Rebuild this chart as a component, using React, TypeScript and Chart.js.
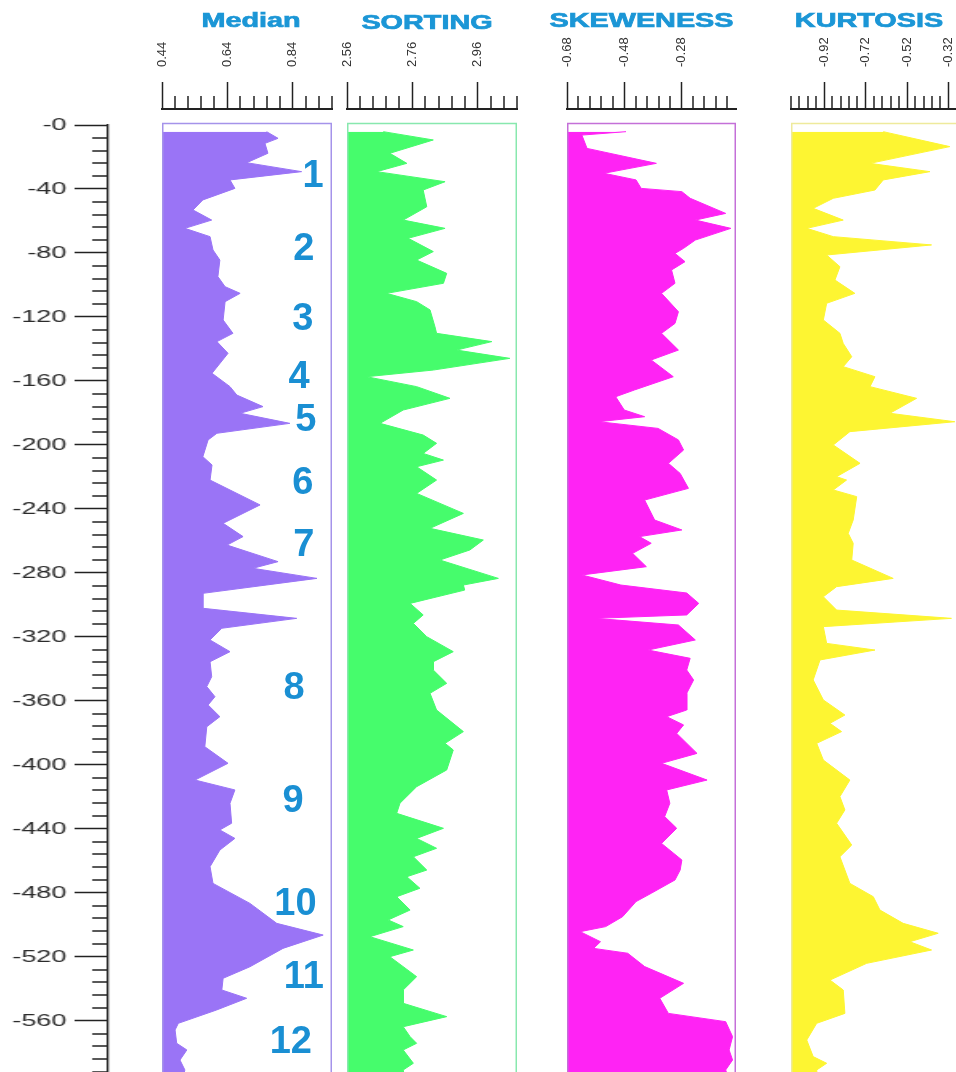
import React, { useEffect, useRef } from 'react';
import { Chart, registerables } from 'chart.js';

Chart.register(...registerables);
Chart.defaults.font.family = "'Liberation Sans', Arial, sans-serif";

// ---------------- data ----------------
const DEPTH_LABELS = [0, -40, -80, -120, -160, -200, -240, -280, -320, -360, -400, -440, -480, -520, -560, -600];
const DEPTH_MIN = -600;
const DEPTH_STEP = 8;

const MEDIAN_TICKS = [0.44, 0.64, 0.84];
const SORTING_TICKS = [2.56, 2.76, 2.96];
const SKEW_TICKS = [-0.68, -0.48, -0.28];
const KURT_TICKS = [-0.92, -0.72, -0.52, -0.32];

const MEDIAN_DEPTH = [-4.1, -8.2, -11.3, -17.4, -23.2, -28.7, -33.8, -39, -46.1, -52.3, -58.5, -63.6, -68.7, -76.9, -83.1, -93.3, -99.5, -103.6, -108.7, -120, -128.2, -133.3, -140.5, -152.8, -161, -166.2, -173.3, -177.4, -183.6, -189.7, -193.8, -204.1, -209.2, -218.5, -233.8, -245.1, -253.3, -258.5, -268.7, -272.8, -279, -288.2, -297.4, -303.6, -309.7, -316.9, -324.1, -330.3, -339.5, -345.6, -351.8, -356.9, -364.1, -370.3, -382.6, -392.8, -403.1, -409.2, -417.4, -429.7, -433.8, -439, -446.2, -456.4, -466.7, -479, -491.3, -498.5, -506.7, -518, -525.1, -532.3, -537.4, -544.6, -552.8, -556.9, -565.1, -569.2, -575.4, -581.5, -590];
const MEDIAN_VALUE = [0.760, 0.795, 0.755, 0.764, 0.699, 0.867, 0.648, 0.663, 0.565, 0.535, 0.592, 0.510, 0.587, 0.596, 0.617, 0.611, 0.633, 0.679, 0.633, 0.627, 0.657, 0.608, 0.642, 0.593, 0.648, 0.669, 0.749, 0.679, 0.831, 0.608, 0.581, 0.565, 0.593, 0.587, 0.740, 0.627, 0.688, 0.639, 0.795, 0.718, 0.914, 0.565, 0.565, 0.852, 0.623, 0.587, 0.648, 0.587, 0.592, 0.577, 0.602, 0.581, 0.617, 0.577, 0.571, 0.642, 0.541, 0.663, 0.648, 0.653, 0.617, 0.663, 0.617, 0.587, 0.596, 0.709, 0.791, 0.933, 0.810, 0.709, 0.627, 0.623, 0.699, 0.607, 0.490, 0.480, 0.485, 0.516, 0.495, 0.510, 0.500];

const SORTING_DEPTH = [-4.1, -9.2, -17.4, -23.6, -28.7, -34.9, -40, -50.3, -58.5, -63.6, -69.7, -77.9, -83.1, -91.3, -97.4, -103.6, -108.7, -113.8, -124.1, -128.2, -133.3, -138.5, -143.6, -150.8, -154.9, -161, -168.2, -175.4, -183.6, -190.8, -195.9, -202.1, -206.2, -210.3, -218.5, -226.7, -239, -248.2, -255.4, -261.5, -267.7, -279, -283.1, -286.2, -294.4, -301.5, -306.7, -314.9, -324.1, -330.3, -335.4, -343.6, -349.7, -360, -373.3, -380.5, -384.6, -396.9, -407.2, -417.4, -423.6, -432.8, -439, -445.1, -450.3, -458.5, -462.6, -469.7, -474.9, -483.1, -489.2, -493.3, -499.5, -507.7, -511.8, -524.1, -532.3, -540.5, -548.7, -554.9, -561, -565.1, -569.2, -577.4, -581.5, -590];
const SORTING_VALUE = [2.671, 2.824, 2.691, 2.743, 2.651, 2.860, 2.793, 2.804, 2.732, 2.860, 2.747, 2.824, 2.773, 2.865, 2.855, 2.681, 2.773, 2.814, 2.829, 2.834, 3.003, 2.895, 3.058, 2.824, 2.620, 2.773, 2.875, 2.732, 2.661, 2.793, 2.834, 2.793, 2.855, 2.773, 2.834, 2.773, 2.916, 2.814, 2.977, 2.936, 2.844, 3.023, 2.916, 2.920, 2.753, 2.793, 2.763, 2.804, 2.885, 2.824, 2.824, 2.865, 2.814, 2.834, 2.916, 2.860, 2.885, 2.865, 2.773, 2.722, 2.712, 2.855, 2.773, 2.834, 2.763, 2.804, 2.743, 2.783, 2.712, 2.753, 2.686, 2.732, 2.630, 2.763, 2.691, 2.773, 2.732, 2.732, 2.865, 2.732, 2.753, 2.773, 2.732, 2.763, 2.732, 2.740];

const SKEW_DEPTH = [-4.1, -6.2, -14.4, -23.6, -29.7, -33.8, -39, -41, -45.1, -54.4, -58.5, -63.6, -70.8, -75.9, -79, -84.1, -89.2, -97.4, -103.6, -114.9, -122.1, -128.2, -138.5, -144.6, -154.9, -163.1, -167.2, -175.4, -179.5, -182.6, -186.7, -193.8, -200, -208.2, -214.4, -223.6, -230.8, -243.1, -249.2, -253.3, -257.4, -263.6, -271.8, -276.9, -283.1, -288, -294.4, -301.5, -303.6, -307.7, -316.9, -323.1, -328.2, -335.4, -341.5, -349.7, -360, -364.1, -369.2, -374.4, -386.7, -392.8, -403.1, -409.2, -417.4, -425.6, -432.8, -442.1, -452.3, -458.5, -464.6, -472.8, -477.9, -487.2, -493.3, -496.4, -502.6, -506.7, -509.7, -517.9, -528.2, -537.4, -546.7, -551.8, -561, -569.2, -575.4, -581.5, -590];
const SKEW_VALUE = [-0.474, -0.628, -0.610, -0.368, -0.551, -0.439, -0.421, -0.279, -0.250, -0.126, -0.232, -0.108, -0.232, -0.273, -0.303, -0.268, -0.315, -0.303, -0.350, -0.291, -0.303, -0.350, -0.291, -0.386, -0.309, -0.445, -0.510, -0.480, -0.409, -0.569, -0.362, -0.291, -0.273, -0.326, -0.285, -0.256, -0.409, -0.374, -0.279, -0.427, -0.386, -0.451, -0.403, -0.628, -0.492, -0.262, -0.220, -0.262, -0.581, -0.291, -0.232, -0.397, -0.250, -0.262, -0.238, -0.262, -0.262, -0.332, -0.273, -0.297, -0.226, -0.350, -0.191, -0.332, -0.321, -0.339, -0.297, -0.350, -0.279, -0.285, -0.303, -0.386, -0.439, -0.486, -0.545, -0.634, -0.563, -0.587, -0.468, -0.409, -0.273, -0.356, -0.326, -0.126, -0.102, -0.114, -0.102, -0.126, -0.110];

const KURT_DEPTH = [-4.1, -13.3, -23.6, -28.7, -33.8, -40, -45.1, -51.3, -58.5, -63.6, -68.7, -73.8, -80, -87.2, -95.4, -103.6, -109.7, -120, -128.2, -134.4, -142.6, -148.7, -154.9, -161, -168.2, -177.4, -182.6, -188.7, -196.9, -208.2, -216.4, -218.5, -224.6, -228.7, -243.1, -251.3, -257.4, -267.7, -279, -284.1, -290.3, -298.5, -303.6, -308.7, -319, -323.1, -329.2, -341.5, -353.8, -363.1, -368.2, -373.3, -380.5, -390.8, -403.1, -413.3, -421.5, -429.7, -443.1, -450.3, -466.7, -474.9, -483.1, -491.3, -497.4, -502.6, -507.7, -515.9, -526.2, -532.3, -546.7, -552.8, -563.1, -573.3, -577.4, -581.5, -590];
const KURT_VALUE = [-0.635, -0.314, -0.699, -0.410, -0.635, -0.675, -0.876, -0.973, -0.828, -1.004, -0.876, -0.402, -0.908, -0.844, -0.868, -0.772, -0.908, -0.924, -0.844, -0.828, -0.787, -0.828, -0.675, -0.699, -0.474, -0.603, -0.290, -0.796, -0.876, -0.747, -0.860, -0.812, -0.876, -0.763, -0.780, -0.804, -0.780, -0.787, -0.587, -0.860, -0.924, -0.860, -0.306, -0.924, -0.908, -0.675, -0.940, -0.973, -0.924, -0.820, -0.892, -0.836, -0.956, -0.924, -0.796, -0.844, -0.820, -0.860, -0.787, -0.844, -0.796, -0.683, -0.651, -0.539, -0.370, -0.507, -0.402, -0.715, -0.892, -0.828, -0.820, -0.956, -1.004, -0.973, -0.908, -0.956, -0.950];

const ZONE_LABELS = ['1', '2', '3', '4', '5', '6', '7', '8', '9', '10', '11', '12'];
const ZONE_DEPTH = [-31, -76, -119, -155, -181, -220, -258, -346, -416, -479, -524, -564];
const ZONE_MEDIAN = [0.902, 0.874, 0.871, 0.859, 0.880, 0.871, 0.874, 0.844, 0.841, 0.848, 0.874, 0.834];

// ---------------- layout / style ----------------
const PAD = 32;
const CANVAS_H = 1100;
const AXIS_Y = 109; // pixel of the top axis line
const Y_MAX = 9.85; // so depth 0 lands at y=125
const TITLE_COLOR = '#1b96d6';
const TICK_COLOR = '#222';
const TICK_FONT = 13;

type Panel = {
  title: string; left: number; width: number; min: number; max: number;
  labels: number[]; depth: number[]; values: number[];
  fill: string; frame: string; titleDx: number; titleY: number; zones?: boolean;
};

const PANELS: Panel[] = [
  { title: 'Median', left: 162, width: 170, min: 0.44, max: 0.96, labels: MEDIAN_TICKS, depth: MEDIAN_DEPTH, values: MEDIAN_VALUE, fill: '#9a74f6', frame: '#a593ea', titleDx: 4, titleY: 21, zones: true },
  { title: 'SORTING', left: 347, width: 170, min: 2.56, max: 3.08, labels: SORTING_TICKS, depth: SORTING_DEPTH, values: SORTING_VALUE, fill: '#46fc6c', frame: '#88e8ae', titleDx: -5, titleY: 23 },
  { title: 'SKEWENESS', left: 567, width: 169, min: -0.68, max: -0.09, labels: SKEW_TICKS, depth: SKEW_DEPTH, values: SKEW_VALUE, fill: '#ff23f4', frame: '#c470d8', titleDx: -10, titleY: 21 },
  { title: 'KURTOSIS', left: 791, width: 170, min: -1.08, max: -0.26, labels: KURT_TICKS, depth: KURT_DEPTH, values: KURT_VALUE, fill: '#fdf532', frame: '#eeea9c', titleDx: -7, titleY: 21 },
];

const near = (a: number, b: number) => Math.abs(a - b) < 1e-6;

// ---------------- plugins ----------------
const minorTicksPlugin = {
  id: 'minorTicks',
  afterDraw(chart: any, _a: any, opts: any) {
    const ctx = chart.ctx;
    Object.keys(chart.scales).forEach((id) => {
      const o = opts && opts[id];
      if (!o) return;
      const scale = chart.scales[id];
      ctx.save();
      ctx.strokeStyle = o.color;
      ctx.lineWidth = o.width;
      ctx.beginPath();
      scale.ticks.forEach((t: any) => {
        if (t.label !== '') return;
        const p = Math.round(scale.getPixelForValue(t.value));
        if (scale.isHorizontal()) {
          ctx.moveTo(p, scale.bottom);
          ctx.lineTo(p, scale.bottom - o.len);
        } else {
          ctx.moveTo(scale.right, p);
          ctx.lineTo(scale.right - o.len, p);
        }
      });
      ctx.stroke();
      ctx.restore();
    });
  },
};

const panelTitlePlugin = {
  id: 'panelTitle',
  afterDraw(chart: any, _a: any, o: any) {
    if (!o || !o.text) return;
    const { ctx, chartArea } = chart;
    const cx = (chartArea.left + chartArea.right) / 2 + (o.dx || 0);
    ctx.save();
    ctx.translate(cx, o.y);
    ctx.scale(o.stretch, 1);
    ctx.font = `bold ${o.size}px 'Liberation Sans', Arial, sans-serif`;
    ctx.textAlign = 'center';
    ctx.textBaseline = 'middle';
    ctx.fillStyle = o.color;
    ctx.strokeStyle = o.color;
    ctx.lineWidth = o.stroke;
    ctx.fillText(o.text, 0, 0);
    ctx.strokeText(o.text, 0, 0);
    ctx.restore();
  },
};

const framePlugin = {
  id: 'panelFrame',
  afterDatasetsDraw(chart: any, _a: any, o: any) {
    if (!o || !o.color) return;
    const { ctx, chartArea, scales } = chart;
    const top = Math.round(scales.y.getPixelForValue(0)) - 1.5;
    ctx.save();
    ctx.strokeStyle = o.color;
    ctx.lineWidth = 1.5;
    ctx.strokeRect(chartArea.left + 0.75, top, chartArea.right - chartArea.left - 1.5, chartArea.bottom - top + 10);
    ctx.restore();
  },
};

const zonePlugin = {
  id: 'zones',
  afterDatasetsDraw(chart: any, _a: any, o: any) {
    if (!o || !o.show) return;
    const { ctx, scales } = chart;
    ctx.save();
    ctx.font = "bold 38px 'Liberation Sans', Arial, sans-serif";
    ctx.fillStyle = o.color;
    ctx.textAlign = 'center';
    ctx.textBaseline = 'middle';
    ZONE_LABELS.forEach((lab, i) => {
      const x = scales.x.getPixelForValue(ZONE_MEDIAN[i]);
      const y = scales.y.getPixelForValue(ZONE_DEPTH[i]);
      ctx.fillText(lab, x, y + 1);
    });
    ctx.restore();
  },
};

// ---------------- components ----------------
function DepthAxis() {
  const ref = useRef<HTMLCanvasElement | null>(null);
  useEffect(() => {
    const chart = new Chart(ref.current as HTMLCanvasElement, {
      type: 'line',
      data: { datasets: [] },
      plugins: [minorTicksPlugin],
      options: {
        animation: false,
        responsive: false,
        events: [],
        layout: { padding: { top: 125, right: 0, left: 0, bottom: 0 } },
        plugins: {
          legend: { display: false },
          tooltip: { enabled: false },
          minorTicks: { y: { len: 10, width: 1.5, color: TICK_COLOR } },
        } as any,
        scales: {
          x: { type: 'linear', display: false },
          y: {
            type: 'linear',
            position: 'left',
            min: DEPTH_MIN,
            max: 0,
            afterBuildTicks: (s: any) => {
              const ticks = [];
              for (let v = 0; v >= DEPTH_MIN; v -= DEPTH_STEP) ticks.push({ value: v });
              s.ticks = ticks;
            },
            afterFit: (s: any) => { s.width = 67; },
            ticks: {
              autoSkip: false,
              padding: 5,
              color: '#2b2b2b',
              font: { size: 17 },
              callback: (v: any) => {
                const n = Number(v);
                if (!DEPTH_LABELS.some((d) => near(d, n))) return '';
                return n === 0 ? '-0' : String(n);
              },
            },
            grid: {
              drawOnChartArea: false,
              drawTicks: true,
              tickLength: 21,
              tickWidth: 1.5,
              tickColor: (c: any) => (c.tick && DEPTH_LABELS.some((d) => near(d, c.tick.value)) ? TICK_COLOR : 'rgba(0,0,0,0)'),
            },
            border: { display: true, color: TICK_COLOR, width: 1.3 },
          },
        },
      } as any,
    });
    return () => chart.destroy();
  }, []);
  return (
    <canvas
      ref={ref}
      width={72}
      height={CANVAS_H}
      style={{ position: 'absolute', left: 1, top: 0, transform: 'scaleX(1.6)', transformOrigin: '0 0' }}
    />
  );
}

function PanelChart({ p }: { p: Panel }) {
  const ref = useRef<HTMLCanvasElement | null>(null);
  useEffect(() => {
    const data = p.depth.map((d, i) => ({ x: p.values[i], y: d }));
    const chart = new Chart(ref.current as HTMLCanvasElement, {
      type: 'line',
      data: {
        datasets: [
          {
            data,
            borderColor: p.fill,
            borderWidth: 1,
            backgroundColor: p.fill,
            pointRadius: 0,
            tension: 0,
            fill: { value: p.min },
          },
        ],
      },
      plugins: [minorTicksPlugin, panelTitlePlugin, framePlugin, zonePlugin],
      options: {
        animation: false,
        responsive: false,
        events: [],
        indexAxis: 'y',
        layout: { padding: { left: PAD, right: PAD, top: 0, bottom: 0 } },
        plugins: {
          legend: { display: false },
          tooltip: { enabled: false },
          minorTicks: { x: { len: 13, width: 1.5, color: TICK_COLOR } },
          panelTitle: { text: p.title, dx: p.titleDx, y: p.titleY, size: 20, stretch: 1.44, stroke: 0.7, color: TITLE_COLOR },
          panelFrame: { color: p.frame },
          zones: { show: !!p.zones, color: '#1a8fd3' },
        } as any,
        scales: {
          x: {
            type: 'linear',
            position: 'top',
            min: p.min,
            max: p.max,
            afterBuildTicks: (s: any) => {
              const ticks = [];
              for (let i = 0; ; i++) {
                const v = Math.round((p.min + i * 0.04) * 100) / 100;
                if (v > p.max + 1e-9) break;
                ticks.push({ value: v });
              }
              s.ticks = ticks;
            },
            afterFit: (s: any) => { s.height = AXIS_Y; },
            ticks: {
              autoSkip: false,
              minRotation: 90,
              maxRotation: 90,
              padding: 15,
              labelOffset: TICK_FONT * 1.2,
              color: '#333',
              font: { size: TICK_FONT },
              callback: (v: any) => {
                const n = Number(v);
                return p.labels.some((l) => near(l, n)) ? n.toFixed(2) : '';
              },
            },
            grid: {
              drawOnChartArea: false,
              drawTicks: true,
              tickLength: 27,
              tickWidth: 1.5,
              tickColor: (c: any) => (c.tick && p.labels.some((l) => near(l, c.tick.value)) ? TICK_COLOR : 'rgba(0,0,0,0)'),
            },
            border: { display: true, color: TICK_COLOR, width: 2 },
          },
          y: {
            type: 'linear',
            display: false,
            min: DEPTH_MIN,
            max: Y_MAX,
          },
        },
      } as any,
    });
    return () => chart.destroy();
  }, [p]);
  return (
    <canvas
      ref={ref}
      width={p.width + PAD * 2}
      height={CANVAS_H}
      style={{ position: 'absolute', left: p.left - PAD, top: 0 }}
    />
  );
}

export default function App() {
  return (
    <div
      style={{
        position: 'absolute',
        left: 0,
        top: 0,
        width: 956,
        height: 1072,
        overflow: 'hidden',
        background: '#ffffff',
      }}
    >
      <DepthAxis />
      {PANELS.map((p) => (
        <PanelChart key={p.title} p={p} />
      ))}
    </div>
  );
}
